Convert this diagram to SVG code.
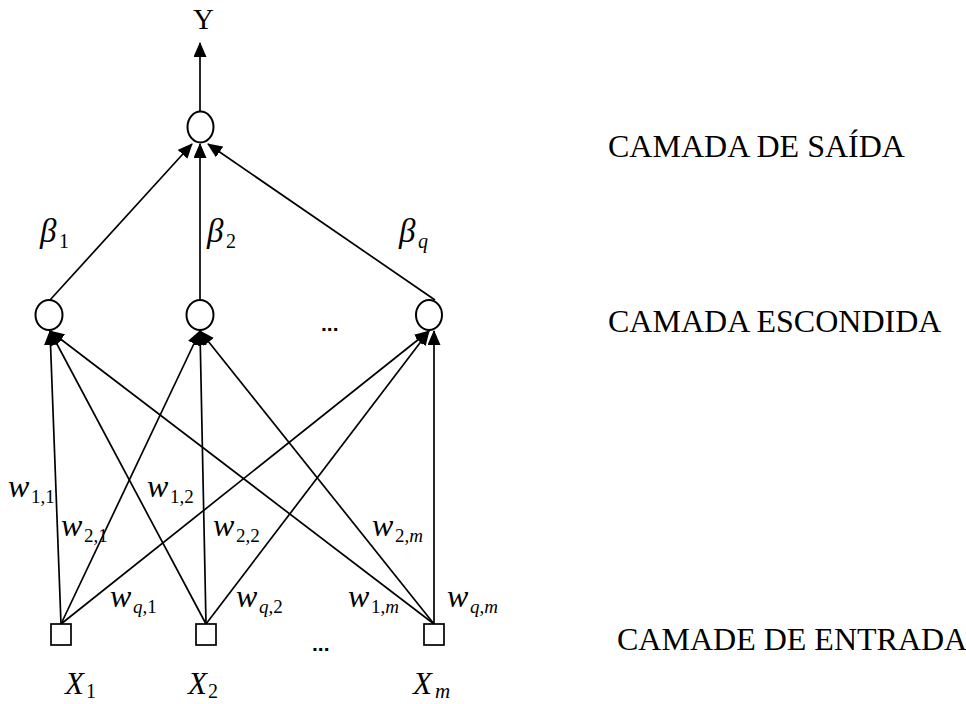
<svg xmlns="http://www.w3.org/2000/svg" width="966" height="704" viewBox="0 0 966 704">
<style>
.node{fill:#fff;stroke:#000;stroke-width:2}
.edge{stroke:#000;stroke-width:1.7;fill:none;marker-end:url(#ah)}
.lay{font-family:"Liberation Serif","Times New Roman",serif;font-size:32px;fill:#000}
.m{font-family:"Liberation Serif","Times New Roman",serif;font-style:italic;font-size:32px;fill:#000}
.s{font-family:"Liberation Serif","Times New Roman",serif;font-style:normal;font-size:19px;fill:#000}
.si{font-family:"Liberation Serif","Times New Roman",serif;font-style:italic;font-size:19px;fill:#000}
.dots{font-family:"Liberation Sans",Arial,sans-serif;font-size:21px;font-weight:bold;fill:#000}
</style>
<defs>
<marker id="ah" markerUnits="userSpaceOnUse" markerWidth="16" markerHeight="14" refX="14" refY="6.5" orient="auto">
<path d="M0,0 L15,6.5 L0,13 z" fill="#000"/>
</marker>
</defs>
<rect width="966" height="704" fill="#fff"/>
<g id="connectors">
<line class="edge" x1="200" y1="111" x2="200" y2="43"/>
<line class="edge" x1="50" y1="300" x2="192" y2="144"/>
<line class="edge" x1="200" y1="300" x2="200" y2="144"/>
<line class="edge" x1="435" y1="300" x2="208" y2="144"/>
<line class="edge" x1="61" y1="624" x2="50" y2="331"/>
<line class="edge" x1="206" y1="624" x2="50" y2="331"/>
<line class="edge" x1="434" y1="624" x2="50" y2="331"/>
<line class="edge" x1="61" y1="624" x2="200" y2="331"/>
<line class="edge" x1="206" y1="624" x2="200" y2="331"/>
<line class="edge" x1="434" y1="624" x2="200" y2="331"/>
<line class="edge" x1="61" y1="624" x2="429" y2="331"/>
<line class="edge" x1="206" y1="624" x2="429" y2="331"/>
<line class="edge" x1="434" y1="624" x2="434" y2="331"/>
</g>
<g id="output">
<ellipse class="node" cx="200.5" cy="127" rx="13" ry="15.5"/>
<text class="lay" x="193" y="29" style="font-size:29px">Y</text>
</g>
<g id="hidden1"><ellipse class="node" cx="49" cy="315" rx="13.5" ry="15"/></g>
<g id="hidden2"><ellipse class="node" cx="200" cy="315" rx="13.5" ry="15"/></g>
<g id="hidden3"><ellipse class="node" cx="429" cy="315" rx="13" ry="15"/></g>
<text class="dots" x="321" y="331">...</text>
<g id="input1"><rect class="node" x="51" y="624" width="20" height="21" style="stroke-width:1.7"/></g>
<g id="input2"><rect class="node" x="196" y="624" width="20" height="21" style="stroke-width:1.7"/></g>
<g id="inputm"><rect class="node" x="424" y="624" width="20" height="21" style="stroke-width:1.7"/></g>
<text class="dots" x="312" y="651">...</text>
<g id="labels-x">
<text class="m" x="65" y="694" style="font-size:31px">X</text><text class="s" x="86" y="698" style="font-size:20px">1</text>
<text class="m" x="188" y="694" style="font-size:31px">X</text><text class="s" x="208" y="698" style="font-size:20px">2</text>
<text class="m" x="413" y="694" style="font-size:31px">X</text><text class="si" x="435" y="698" style="font-size:21px">m</text>
</g>
<g id="labels-beta">
<text class="m" x="40" y="242" style="font-size:33px">β</text><text class="s" x="59" y="248" style="font-size:20px">1</text>
<text class="m" x="207" y="242" style="font-size:33px">β</text><text class="s" x="226" y="248" style="font-size:20px">2</text>
<text class="m" x="399" y="242" style="font-size:33px">β</text><text class="si" x="418" y="248" style="font-size:20px">q</text>
</g>
<g id="labels-w">
<text class="m" x="8" y="497">w</text><text class="s" x="31" y="503">1,1</text>
<text class="m" x="147" y="497">w</text><text class="s" x="170" y="503">1,2</text>
<text class="m" x="61" y="536">w</text><text class="s" x="84" y="542">2,1</text>
<text class="m" x="213" y="536">w</text><text class="s" x="236" y="542">2,2</text>
<text class="m" x="372" y="536">w</text><text class="s" x="395" y="542">2,<tspan class="si">m</tspan></text>
<text class="m" x="110" y="607">w</text><text class="s" x="133" y="613"><tspan class="si">q</tspan>,1</text>
<text class="m" x="236" y="607">w</text><text class="s" x="259" y="613"><tspan class="si">q</tspan>,2</text>
<text class="m" x="348" y="607">w</text><text class="s" x="371" y="613">1,<tspan class="si">m</tspan></text>
<text class="m" x="447" y="607">w</text><text class="s" x="470" y="613"><tspan class="si">q</tspan>,<tspan class="si">m</tspan></text>
</g>
<g id="layers">
<text class="lay" x="608" y="157">CAMADA DE SAÍDA</text>
<text class="lay" x="608" y="332">CAMADA ESCONDIDA</text>
<text class="lay" x="617" y="650">CAMADE DE ENTRADA</text>
</g>
</svg>
